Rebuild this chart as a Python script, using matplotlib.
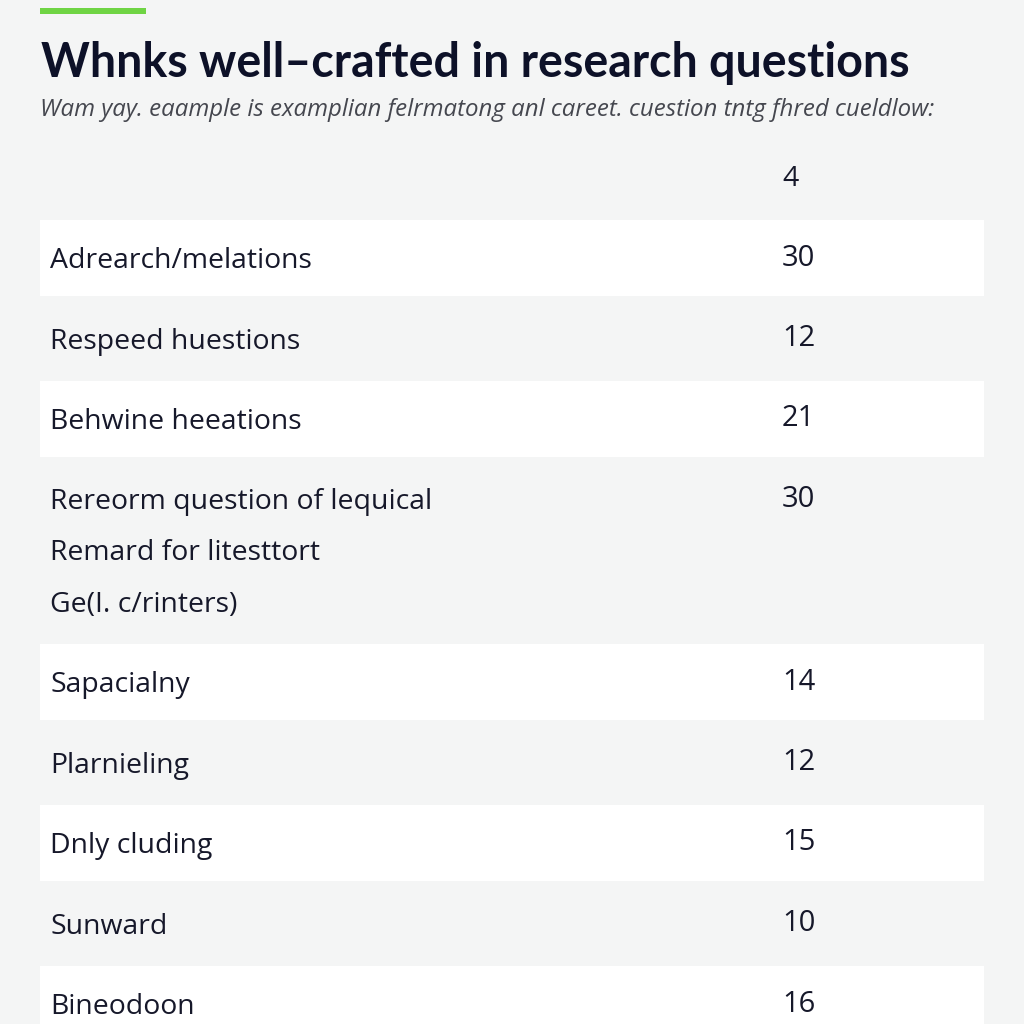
import matplotlib
matplotlib.use("Agg")
import matplotlib.pyplot as plt
import matplotlib.patches as mpatches

TITLE = "Whnks well\u2013crafted in research questions"
SUBTITLE = "Wam yay. eaample is examplian felrmatong anl careet. cuestion tntg fhred cueldlow:"
HEADER_VALUE = "4"
labels = [
    ["Adrearch/melations"],
    ["Respeed huestions"],
    ["Behwine heeations"],
    ["Rereorm question of lequical", "Remard for litesttort", "Ge(I. c/rinters)"],
    ["Sapacialny"],
    ["Plarnieling"],
    ["Dnly cluding"],
    ["Sunward"],
    ["Bineodoon"],
]
values = [30, 12, 21, 30, 14, 12, 15, 10, 16]

BG = "#f4f5f5"
BAND = "#ffffff"
INK = "#16182a"
TITLE_INK = "#0d1128"
GREEN = "#6fd444"

ROW_PITCH, LINE_GAP, BAND_H = 80.5, 51.0, 76.0
X0, X1, LABEL_X, VALUE_X = 40, 984, 50, 782

fig = plt.figure(figsize=(10.24, 10.24), dpi=100, facecolor=BG)
ax = fig.add_axes([0, 0, 1, 1])
ax.set_xlim(0, 1024); ax.set_ylim(1024, 0)
ax.axis("off")
ax.set_facecolor(BG)

# accent bar + heading
ax.add_patch(mpatches.Rectangle((40, 8), 106, 6, color=GREEN, lw=0))
ax.text(41, 77, TITLE, fontsize=33.5, fontweight="bold", color=TITLE_INK,
        family="Lato", va="baseline", ha="left")
ax.text(40, 110, SUBTITLE, fontsize=17.3, style="italic", color="#45474f",
        family="Open Sans", va="center", ha="left")
ax.text(VALUE_X, 179, HEADER_VALUE, fontsize=20.5, color=INK, family="Open Sans",
        va="center", ha="left")

top = 218.0
for i, (lines, v) in enumerate(zip(labels, values)):
    h = ROW_PITCH + LINE_GAP * (len(lines) - 1)
    if i % 2 == 0:
        ax.add_patch(mpatches.Rectangle((X0, top + 2), X1 - X0, BAND_H,
                                        color=BAND, lw=0, zorder=0))
    for j, line in enumerate(lines):
        ax.text(LABEL_X, top + 43 + j * LINE_GAP, line, fontsize=20.4, color=INK,
                family="Open Sans", va="center", ha="left")
    ax.text(VALUE_X, top + 40, str(v), fontsize=21, color=INK,
            family="Open Sans", va="center", ha="left")
    top += h

fig.savefig("out.png", dpi=100, facecolor=BG)
